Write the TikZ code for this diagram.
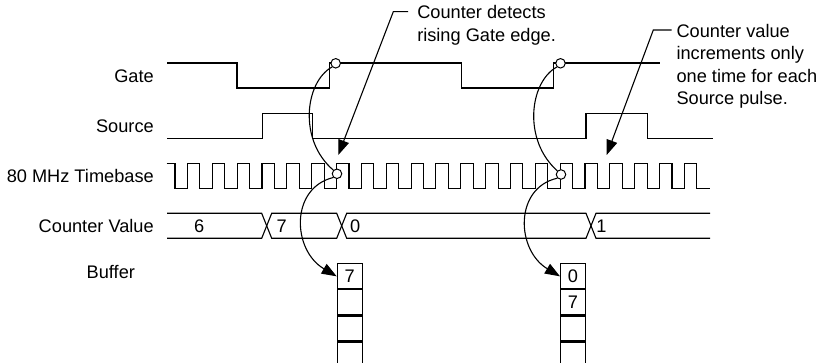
\documentclass[tikz,border=0pt]{standalone}
\usepackage{fontspec}
\setmainfont{Liberation Sans}
\usetikzlibrary{arrows.meta}
\begin{document}
\begin{tikzpicture}[x=1pt,y=-1pt,line width=1.1pt,line join=miter,
  lbl/.style={font=\fontsize{18.2}{22.4}\selectfont,inner sep=0pt},
  ring/.style={circle,draw,fill=white,inner sep=0pt,minimum size=9.5pt,line width=1pt},
  cell/.style={draw,minimum width=25pt,minimum height=25pt,inner sep=0pt,anchor=north west,font=\fontsize{18.2}{22}\selectfont},
  tipa/.style={-{Triangle[length=15pt,width=11pt]}}]
\useasboundingbox (0,0) rectangle (823,363);

% signal labels
\node[lbl,anchor=base east] (lgate) at (154.3,82.3) {Gate};
\node[lbl,anchor=base east] (lsrc) at (154.3,132.6) {Source};
\node[lbl,anchor=base east] (ltb) at (154.3,182.6) {80 MHz Timebase};
\node[lbl,anchor=base east] (lcv) at (154.3,232.6) {Counter Value};
\node[lbl,anchor=base east] (lbuf) at (135.5,279) {Buffer};

% Gate
\draw (167,63) -- (237,63) -- (237,88) -- (329.3,88) -- (329.3,63) -- (335,63)
      (336,63) -- (461.7,63) -- (461.7,88) -- (553.3,88) -- (553.3,63) -- (660,63);
% Source
\draw (167,138.3) -- (262.3,138.3) -- (262.3,113.3) -- (312.3,113.3) -- (312.3,138.3)
      -- (586,138.3) -- (586,113.3) -- (647.3,113.3) -- (647.3,138.3) -- (713.3,138.3);
% Timebase
\draw (166.7,163.3) -- (175,163.3)
  \foreach \k in {0,...,20} {
    -- ({175+\k*24.85},188.3) -- ({187.43+\k*24.85},188.3)
    -- ({187.43+\k*24.85},163.3) -- ({175+(\k+1)*24.85},163.3)
  } -- ({175+21*24.85},188.3) -- (710,188.3);
% Counter value bus
\draw (167,213.3) -- (261.7,213.3) -- (271.7,238.3) -- (336.7,238.3) -- (346.7,213.3)
      -- (586,213.3) -- (596,238.3) -- (710,238.3);
\draw (167,238.3) -- (261.7,238.3) -- (271.7,213.3) -- (336.7,213.3) -- (346.7,238.3)
      -- (586,238.3) -- (596,213.3) -- (710,213.3);
\node[lbl,anchor=base] (v6) at (199.3,232.6) {6};
\node[lbl,anchor=base] (v7) at (281.7,232.6) {7};
\node[lbl,anchor=base] (v0) at (355.3,232.6) {0};
\node[lbl,anchor=base] (v1) at (601.5,232.6) {1};

% detection rings
\node[ring] (g1) at (335.7,63.3) {};
\node[ring] (g2) at (560.5,63.3) {};
\node[ring] (t1) at (337,173.8) {};
\node[ring] (t2) at (561,174.5) {};

% buffers
\node[cell] (b1a) at (336.7,263.3) {7};
\node[cell] (b1b) at (b1a.south west) {};
\node[cell] (b1c) at (b1b.south west) {};
\node[cell] (b1d) at (b1c.south west) {};
\node[cell] (b2a) at (560,263.3) {0};
\node[cell] (b2b) at (b2a.south west) {7};
\node[cell] (b2c) at (b2b.south west) {};
\node[cell] (b2d) at (b2c.south west) {};

% curved connectors
\draw (g1.south west) .. controls (305,82) and (298,140) .. (t1.north west);
\draw[tipa] (t1.south west) .. controls (290,188) and (292,250) .. (b1a.west);
\draw (g2.south west) .. controls (529.5,82) and (522.5,140) .. (t2.north west);
\draw[tipa] (t2.south west) .. controls (514,188) and (516,250) .. (b2a.west);

% annotations
\node[lbl,anchor=north west,align=left] (n1) at (416.7,5.2) {Counter detects\\rising Gate edge.};
\node[lbl,anchor=north west,align=left] (n2) at (676,23.6) {Counter value\\increments only\\one time for each\\Source pulse.};
\coordinate (k1e) at (408,11.7);
\coordinate (k1) at (393.3,11.7);
\coordinate (tip1) at (338.3,155);
\coordinate (k2e) at (671.7,30);
\coordinate (k2) at (653.3,30);
\coordinate (tip2) at (606.7,155);
\draw[tipa] (k1e) -- (k1) -- (tip1);
\draw[tipa] (k2e) -- (k2) -- (tip2);
\end{tikzpicture}
\end{document}
